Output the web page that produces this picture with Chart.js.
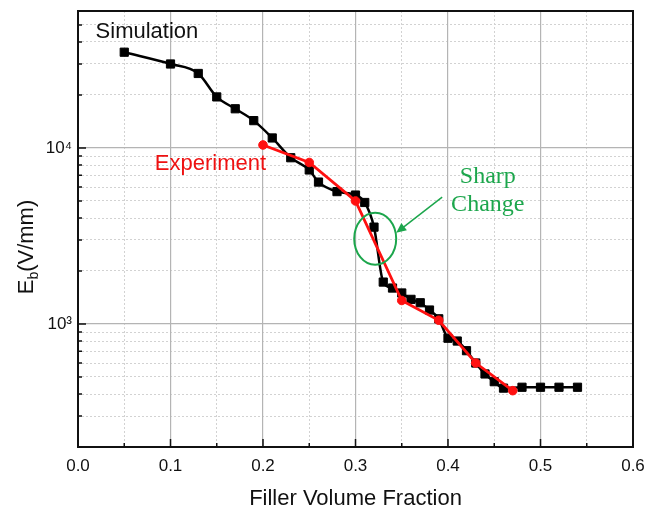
<!DOCTYPE html>
<html>
<head>
<meta charset="utf-8">
<script src="https://cdn.jsdelivr.net/npm/chart.js@4/dist/chart.umd.min.js"></script>
<style>
  html, body { margin: 0; padding: 0; background: #fff; }
</style>
</head>
<body>
<canvas id="ebChart" width="646" height="508"></canvas>
<script>
// ===== Data =====
const simX = [0.05, 0.10, 0.13, 0.15, 0.17, 0.19, 0.21, 0.23, 0.25, 0.26, 0.28, 0.30, 0.31, 0.32,
  0.33, 0.34, 0.35, 0.36, 0.37, 0.38, 0.39, 0.40, 0.41, 0.42, 0.43, 0.44, 0.45, 0.46, 0.48, 0.50, 0.52, 0.54];
const simY = [35000, 30000, 26500, 19500, 16700, 14300, 11400, 8800, 7500, 6400, 5650, 5400, 4900, 3550,
  1730, 1600, 1500, 1380, 1320, 1200, 1070, 830, 800, 705, 600, 520, 470, 432, 437, 437, 437, 437];

const expX = [0.20, 0.25, 0.30, 0.35, 0.39, 0.43, 0.47];
const expY = [10400, 8270, 5000, 1360, 1050, 600, 418];

const xMajorTicks = [0, 0.1, 0.2, 0.3, 0.4, 0.5, 0.6];
const xMinorTicks = [0.05, 0.15, 0.25, 0.35, 0.45, 0.55];
const yMajorTicks = [1000, 10000];
const yTickLabels = { 1000: "10\u00B3", 10000: "10\u2074" };
const yMinorTicks = [200, 300, 400, 500, 600, 700, 800, 900,
  2000, 3000, 4000, 5000, 6000, 7000, 8000, 9000, 20000, 30000, 40000, 50000];

const GREEN = "#1ca64c";

// ===== Extra drawing: frame, inward ticks, y title, annotations =====
const decorPlugin = {
  id: "decor",
  afterDraw(chart) {
    const { ctx, chartArea: a, scales } = chart;
    const x = scales.x, y = scales.y;
    ctx.save();

    // frame
    ctx.strokeStyle = "#111";
    ctx.lineWidth = 2;
    ctx.strokeRect(a.left, a.top, a.right - a.left, a.bottom - a.top);

    // inward ticks
    ctx.lineWidth = 1.5;
    ctx.beginPath();
    xMajorTicks.forEach(v => { const px = x.getPixelForValue(v); ctx.moveTo(px, a.bottom); ctx.lineTo(px, a.bottom - 8); });
    xMinorTicks.forEach(v => { const px = x.getPixelForValue(v); ctx.moveTo(px, a.bottom); ctx.lineTo(px, a.bottom - 4); });
    yMajorTicks.forEach(v => { const py = y.getPixelForValue(v); ctx.moveTo(a.left, py); ctx.lineTo(a.left + 8, py); });
    yMinorTicks.forEach(v => { const py = y.getPixelForValue(v); ctx.moveTo(a.left, py); ctx.lineTo(a.left + 4, py); });
    ctx.stroke();

    // y title with subscript
    ctx.save();
    ctx.translate(33, 247);
    ctx.rotate(-Math.PI / 2);
    ctx.fillStyle = "#111";
    ctx.textBaseline = "alphabetic";
    const big = "22px 'Liberation Sans', Arial, sans-serif";
    const small = "14px 'Liberation Sans', Arial, sans-serif";
    ctx.font = big;
    const wE = ctx.measureText("E").width;
    const wRest = ctx.measureText("(V/mm)").width;
    ctx.font = small;
    const wb = ctx.measureText("b").width;
    let sx = -(wE + wb + wRest) / 2;
    ctx.font = big; ctx.fillText("E", sx, 0); sx += wE;
    ctx.font = small; ctx.fillText("b", sx, 5); sx += wb;
    ctx.font = big; ctx.fillText("(V/mm)", sx, 0);
    ctx.restore();

    // series labels
    ctx.font = "22px 'Liberation Sans', Arial, sans-serif";
    ctx.textBaseline = "middle";
    ctx.textAlign = "left";
    ctx.fillStyle = "#111";
    ctx.fillText("Simulation", x.getPixelForValue(0.019), y.getPixelForValue(45600));
    ctx.fillStyle = "#ee1111";
    ctx.fillText("Experiment", x.getPixelForValue(0.083), y.getPixelForValue(8150));

    // Sharp Change annotation
    ctx.fillStyle = GREEN;
    ctx.font = "24px 'Liberation Serif', 'Times New Roman', serif";
    ctx.textAlign = "center";
    ctx.textBaseline = "alphabetic";
    ctx.fillText("Sharp", x.getPixelForValue(0.443), y.getPixelForValue(6340));
    ctx.fillText("Change", x.getPixelForValue(0.443), y.getPixelForValue(4400));

    ctx.strokeStyle = GREEN;
    ctx.lineWidth = 2;
    ctx.beginPath();
    ctx.ellipse(x.getPixelForValue(0.3213), y.getPixelForValue(3050), 21, 26, 0, 0, Math.PI * 2);
    ctx.stroke();

    const x1 = x.getPixelForValue(0.3937), y1 = y.getPixelForValue(5260);
    const x2 = x.getPixelForValue(0.344), y2 = y.getPixelForValue(3300);
    const ang = Math.atan2(y2 - y1, x2 - x1);
    ctx.lineWidth = 1.5;
    ctx.beginPath();
    ctx.moveTo(x1, y1);
    ctx.lineTo(x2 - 6 * Math.cos(ang), y2 - 6 * Math.sin(ang));
    ctx.stroke();
    ctx.fillStyle = GREEN;
    ctx.beginPath();
    ctx.moveTo(x2, y2);
    ctx.lineTo(x2 - 10 * Math.cos(ang) + 4.5 * Math.sin(ang), y2 - 10 * Math.sin(ang) - 4.5 * Math.cos(ang));
    ctx.lineTo(x2 - 10 * Math.cos(ang) - 4.5 * Math.sin(ang), y2 - 10 * Math.sin(ang) + 4.5 * Math.cos(ang));
    ctx.closePath();
    ctx.fill();

    ctx.restore();
  }
};

// keep the plot box where the layout padding puts it
const noPad = s => { s.paddingLeft = 0; s.paddingRight = 0; s.paddingTop = 0; s.paddingBottom = 0; };

// ===== Chart =====
const ctx = document.getElementById("ebChart").getContext("2d");
Chart.defaults.font.family = "'Liberation Sans', Arial, sans-serif";
Chart.defaults.color = "#111";

new Chart(ctx, {
  type: "line",
  data: {
    datasets: [
      {
        label: "Experiment",
        data: expX.map((v, i) => ({ x: v, y: expY[i] })),
        borderColor: "#ff1010",
        backgroundColor: "#ff1010",
        borderWidth: 2.8,
        pointStyle: "circle",
        pointRadius: 4.3,
        pointBorderWidth: 1,
        tension: 0,
        order: 0
      },
      {
        label: "Simulation",
        data: simX.map((v, i) => ({ x: v, y: simY[i] })),
        borderColor: "#000",
        backgroundColor: "#000",
        borderWidth: 2.5,
        pointStyle: "rect",
        pointRadius: 5.8,
        pointBorderWidth: 1,
        cubicInterpolationMode: "monotone",
        order: 1
      }
    ]
  },
  options: {
    responsive: false,
    animation: false,
    layout: { padding: { left: 0, top: 11, right: 13, bottom: 0 } },
    plugins: { legend: { display: false }, tooltip: { enabled: false } },
    scales: {
      xMinor: {
        type: "linear", position: "bottom", min: 0, max: 0.6,
        afterBuildTicks: s => { s.ticks = xMinorTicks.map(v => ({ value: v })); },
        afterFit: s => { s.height = 0; noPad(s); },
        ticks: { display: false },
        grid: { color: "#d2d2d2", lineWidth: 1, drawTicks: false },
        border: { display: false, dash: [2, 2] }
      },
      yMinor: {
        type: "logarithmic", position: "left", min: 200, max: 60000,
        afterBuildTicks: s => { s.ticks = yMinorTicks.map(v => ({ value: v })); },
        afterFit: s => { s.width = 0; noPad(s); },
        ticks: { display: false },
        grid: { color: "#d2d2d2", lineWidth: 1, drawTicks: false },
        border: { display: false, dash: [2, 2] }
      },
      x: {
        type: "linear", position: "bottom", min: 0, max: 0.6,
        afterBuildTicks: s => { s.ticks = xMajorTicks.map(v => ({ value: v })); },
        afterFit: s => { s.height = 61; noPad(s); },
        ticks: { callback: v => v.toFixed(1), font: { size: 17 }, padding: 9, color: "#111" },
        grid: { color: "#b4b4b4", lineWidth: 1.2, drawTicks: false },
        border: { display: false },
        title: {
          display: true, text: "Filler Volume Fraction", color: "#111",
          font: { size: 22, lineHeight: 0.8 }, padding: { top: 0, bottom: 0 }
        }
      },
      y: {
        type: "logarithmic", position: "left", min: 200, max: 60000,
        afterBuildTicks: s => { s.ticks = yMajorTicks.map(v => ({ value: v })); },
        afterFit: s => { s.width = 78; noPad(s); },
        ticks: { callback: v => yTickLabels[v] || "", font: { size: 17 }, padding: 6, color: "#111" },
        grid: { color: "#b4b4b4", lineWidth: 1.2, drawTicks: false },
        border: { display: false }
      }
    }
  },
  plugins: [decorPlugin]
});
</script>
</body>
</html>
